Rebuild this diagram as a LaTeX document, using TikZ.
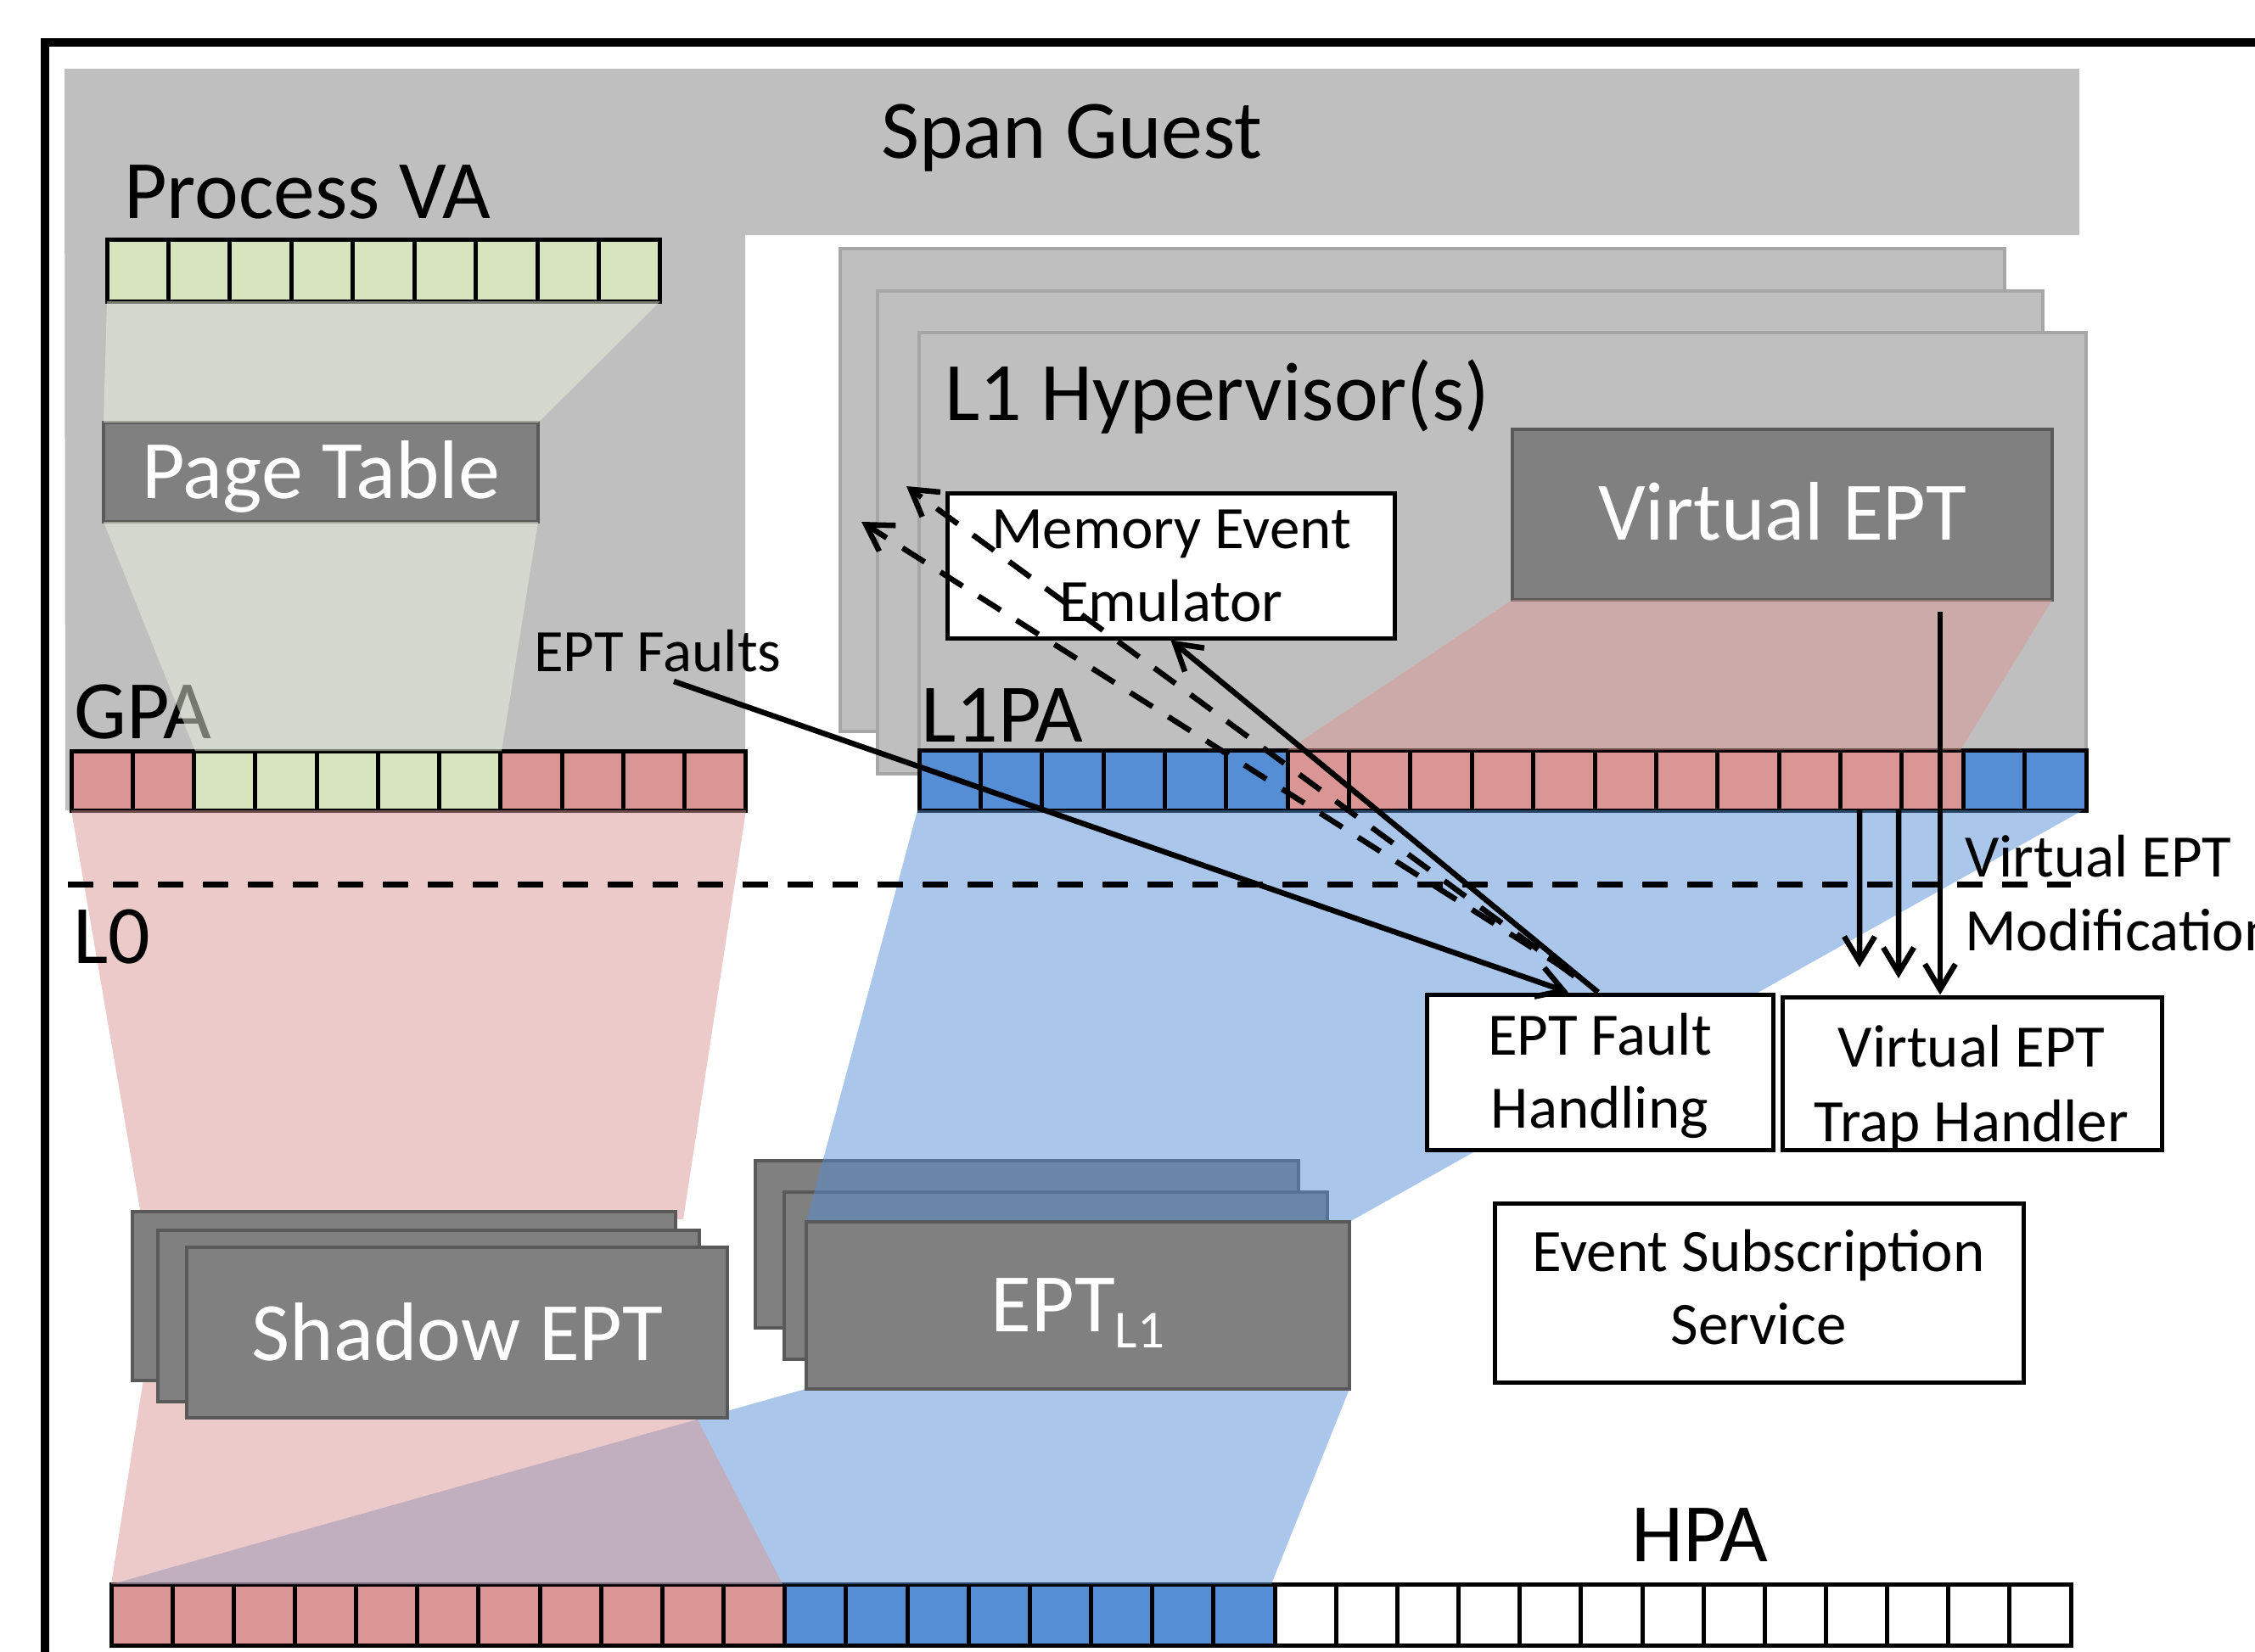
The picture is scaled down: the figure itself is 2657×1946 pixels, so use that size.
\documentclass[tikz,border=0pt]{standalone}
\usepackage{fontspec}
\setmainfont{Carlito}
\usetikzlibrary{arrows.meta,calc}
\definecolor{guestgray}{HTML}{BFBFBF}
\definecolor{hvborder}{HTML}{A6A6A6}
\definecolor{darkfill}{HTML}{808080}
\definecolor{darkborder}{HTML}{595959}
\definecolor{cellgreen}{HTML}{D7E4BD}
\definecolor{cellred}{HTML}{D99694}
\definecolor{cellblue}{HTML}{558ED5}
\definecolor{mapgreen}{HTML}{EBF1DE}
\newcommand{\lblbig}{\fontsize{98}{110}\selectfont}
\newcommand{\lblsmall}{\fontsize{71}{86}\selectfont}
\newcommand{\lblsub}{\fontsize{63}{70}\selectfont}
\newcommand{\drawbx}[6]{\node[#1, inner sep=0pt, minimum width={(#5-#3)*1pt}, minimum height={(#6-#4)*1pt}] (#2) at ({(#3+#5)/2},{(#4+#6)/2}) {};}
\begin{document}
\begin{tikzpicture}[x=1pt,y=-1pt,
  cell/.style={draw=black, line width=5pt, inner sep=0pt, outer sep=0pt},
  hvbox/.style={draw=hvborder, fill=guestgray, line width=3.5pt},
  darkbox/.style={draw=darkborder, fill=darkfill, line width=4pt},
  wbox/.style={draw=black, fill=white, line width=5pt},
  tbig/.style={inner sep=0pt, font=\lblbig},
  tsmall/.style={inner sep=0pt, font=\lblsmall},
  mapfill/.style={fill=#1, fill opacity=0.5, draw=none},
  arr/.style={line width=6.5pt, -{Straight Barb[length=30pt,width=36pt]}},
  darr/.style={arr, dash pattern=on 31pt off 22pt}]
\useasboundingbox (0,0) rectangle (2657,1946);
% guest background
\fill[guestgray] (76,81) -- (2450,81) -- (2450,277) -- (878,277) -- (878,955) -- (77,955) -- cycle;
% L1 hypervisor stack
\drawbx{hvbox}{l1back}{990}{293}{2362}{862}
\drawbx{hvbox}{l1mid}{1034}{343}{2407}{912}
\drawbx{hvbox}{l1front}{1083}{392}{2458}{955}
% address rows
\foreach \i in {0,...,8}
  \node[cell, fill=cellgreen, minimum width=72.44pt, minimum height=73pt] (va-\i) at ({126+72.44*(\i+0.5)},318.5) {};
\foreach \i/\c in {0/cellred,1/cellred,2/cellgreen,3/cellgreen,4/cellgreen,5/cellgreen,6/cellgreen,7/cellred,8/cellred,9/cellred,10/cellred}
  \node[cell, fill=\c, minimum width=72.27pt, minimum height=70pt] (gpa-\i) at ({84+72.27*(\i+0.5)},920) {};
\foreach \i in {0,...,18}{
  \ifnum\i<6 \def\c{cellblue}\else\ifnum\i<17 \def\c{cellred}\else\def\c{cellblue}\fi\fi
  \node[cell, fill=\c, minimum width=72.37pt, minimum height=71pt] (l1pa-\i) at ({1083+72.37*(\i+0.5)},919.5) {};}
\foreach \i in {0,...,31}{
  \ifnum\i<11 \def\c{cellred}\else\ifnum\i<19 \def\c{cellblue}\else\def\c{white}\fi\fi
  \node[cell, fill=\c, minimum width=72.16pt, minimum height=72pt] (hpa-\i) at ({131+72.16*(\i+0.5)},1903) {};}
% page table and virtual EPT
\drawbx{darkbox}{pt}{122}{498}{634}{615}
\drawbx{darkbox}{vept}{1782}{506}{2418}{707}
% labels
\node[tbig, anchor=base] (sg-t) at (1263,186) {Span Guest};
\node[tbig, anchor=base west] (va-t) at (146,257) {Process VA};
\node[tbig, anchor=base, text=white] (pt-t) at (378,587) {Page Table};
\node[tbig, anchor=base west] (gpa-t) at (87,870) {GPA};
\node[tsmall, anchor=base west] (ef-t) at (629,791) {EPT Faults};
\node[tbig, anchor=base west] (l1h-t) at (1113,495) {L1 Hypervisor(s)};
\node[tbig, anchor=base, text=white] (vept-t) at (2100,636) {Virtual EPT};
\node[tbig, anchor=base west] (l1pa-t) at (1085,874) {L1PA};
\node[tbig, anchor=base west] (hpa-t) at (1922,1840) {HPA};
% mapping regions
\fill[mapfill=mapgreen] (126,355) -- (778,355) -- (634,498) -- (122,498) -- cycle;
\fill[mapfill=mapgreen] (122,615) -- (634,615) -- (591,885) -- (230,885) -- cycle;
\fill[mapfill=cellred] (1782,707) -- (2418,707) -- (2310,884) -- (1517,884) -- cycle;
\fill[mapfill=cellblue] (949,1637) -- (1590,1637) -- (1498,1867) -- (132,1867) -- cycle;
\fill[mapfill=cellred] (173,1600) -- (784,1600) -- (922,1867) -- (131,1867) -- cycle;
\fill[mapfill=cellred] (84,955) -- (879,955) -- (805,1437) -- (167,1437) -- cycle;
\node[tbig, anchor=base west] (l0-t) at (86,1135) {L0};
% shadow EPT and EPT_L1 stacks (back)
\drawbx{darkbox}{sback}{156}{1428}{796}{1627}
\drawbx{darkbox}{smid}{186}{1450}{824}{1652}
\drawbx{darkbox}{eback}{890}{1368}{1530}{1565}
\drawbx{darkbox}{emid}{924}{1405}{1564}{1602}
\fill[mapfill=cellblue] (1081,955) -- (2454,955) -- (1590,1440) -- (950,1440) -- cycle;
\drawbx{darkbox}{sfront}{220}{1470}{857}{1671}
\drawbx{darkbox}{efront}{950}{1440}{1590}{1637}
\node[tbig, anchor=base, text=white] (se-t) at (539,1603) {Shadow EPT};
\node[tbig, anchor=base, text=white] (el1-t) at (1270,1569) {EPT\raisebox{-19pt}{\lblsub L1}};
% white boxes
\drawbx{wbox}{mee}{1116}{581}{1643}{752}
\drawbx{wbox}{efh}{1681}{1172}{2089}{1355}
\drawbx{wbox}{vth}{2100}{1175}{2547}{1355}
\drawbx{wbox}{ess}{1761}{1418}{2384}{1629}
\node[tsmall, anchor=base] (mee-t1) at (1380,646) {Memory Event};
\node[tsmall, anchor=base] (mee-t2) at (1380,732) {Emulator};
\node[tsmall, anchor=base] (efh-t1) at (1885,1243) {EPT Fault};
\node[tsmall, anchor=base] (efh-t2) at (1885,1329) {Handling};
\node[tsmall, anchor=base] (vth-t1) at (2323,1257) {Virtual EPT};
\node[tsmall, anchor=base] (vth-t2) at (2323,1345) {Trap Handler};
\node[tsmall, anchor=base] (ess-t1) at (2072,1498) {Event Subscription};
\node[tsmall, anchor=base] (ess-t2) at (2072,1584) {Service};
\node[tsmall, anchor=base west] (vm-t1) at (2315,1033) {Virtual EPT};
\node[tsmall, anchor=base west] (vm-t2) at (2315,1120) {Modification};
% L0 boundary
\draw[line width=7pt, dash pattern=on 30pt off 23pt] (80,1042) -- (2440,1042);
% connectors
\coordinate (efstart) at (794,803);
\coordinate (dtip1) at (1068,573);
\coordinate (dtip2) at (1015,615);
\coordinate (v1end) at (2191,1140);
\coordinate (v2end) at (2237,1153);
\draw[arr] (efstart) -- ([xshift=-37pt]efh.north);
\draw[arr] ([xshift=-2pt]efh.north) -- (mee.south);
\draw[darr] ([xshift=-30pt,yshift=19pt]efh.north) -- (dtip1);
\draw[darr] ([xshift=-35pt,yshift=24pt]efh.north) -- (dtip2);
\draw[arr] ([xshift=-13.7pt]l1pa-15.south) -- (v1end);
\draw[arr] ([xshift=32.3pt]l1pa-15.south) -- (v2end);
\draw[arr] ([xshift=186pt,yshift=-12pt]vept.south) -- ([xshift=-37.5pt]vth.north);
% outer frame
\draw[line width=10pt] (2800,50) -- (53,50) -- (53,2100);
\end{tikzpicture}
\end{document}
